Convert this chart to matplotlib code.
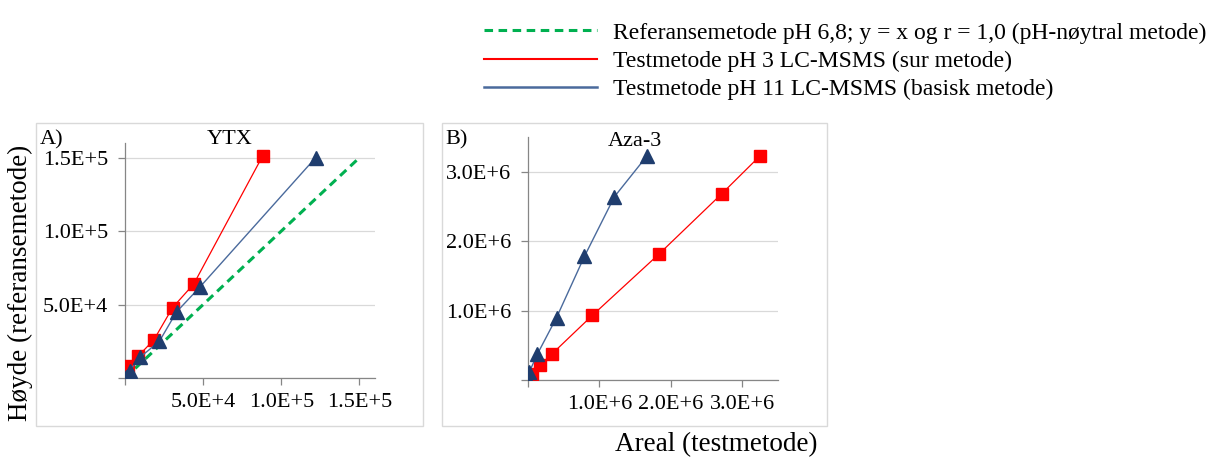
# ------------------------------------------
# Kalibreringskurver: YTX og Aza-3
# ------------------------------------------

import matplotlib
matplotlib.use("Agg")
import matplotlib.pyplot as plt
from matplotlib.lines import Line2D
from matplotlib.patches import Rectangle
from matplotlib.ticker import FuncFormatter, MultipleLocator

plt.rcParams["font.family"] = ["Liberation Serif", "DejaVu Serif"]

# ------------------------------------------
# Data
# ------------------------------------------

# A) YTX
ytx_ref = [0, 150e3]
ytx_sur_x = [0.5e3, 2e3, 8.5e3, 18.5e3, 30.5e3, 44e3, 88e3]
ytx_sur_y = [2e3, 8e3, 15e3, 26e3, 48e3, 64e3, 151e3]
ytx_bas_x = [0.5e3, 3e3, 9.5e3, 22e3, 33e3, 48e3, 122e3]
ytx_bas_y = [1e3, 5e3, 14e3, 25e3, 45e3, 62e3, 150e3]

# B) Aza-3
aza_sur_x = [0.05e6, 0.17e6, 0.34e6, 0.90e6, 1.84e6, 2.71e6, 3.25e6]
aza_sur_y = [0.09e6, 0.21e6, 0.38e6, 0.93e6, 1.82e6, 2.68e6, 3.23e6]
aza_bas_x = [0.0e6, 0.02e6, 0.13e6, 0.40e6, 0.79e6, 1.21e6, 1.66e6]
aza_bas_y = [0.0e6, 0.12e6, 0.37e6, 0.90e6, 1.78e6, 2.64e6, 3.22e6]

legend_labels = [
    "Referansemetode pH 6,8; y = x og r = 1,0 (pH-nøytral metode)",
    "Testmetode pH 3 LC-MSMS (sur metode)",
    "Testmetode pH 11 LC-MSMS (basisk metode)",
]

# ------------------------------------------
# Style
# ------------------------------------------

GREEN = "#00b050"
RED = "#ff0000"
BLUE_LINE = "#4a6a9c"
BLUE_MARK = "#1f3d6e"
GRID = "#d9d9d9"
AXIS = "#868686"

W, H = 1219, 459


def sci(v, pos):
    if v == 0:
        return ""
    exp = 0
    m = v
    while abs(m) >= 10:
        m /= 10
        exp += 1
    return f"{m:.1f}E+{exp}"


def style(ax, step_x, step_y, lim_x, lim_y):
    ax.set_xlim(0, lim_x)
    ax.set_ylim(0, lim_y)
    ax.xaxis.set_major_locator(MultipleLocator(step_x))
    ax.yaxis.set_major_locator(MultipleLocator(step_y))
    ax.xaxis.set_major_formatter(FuncFormatter(sci))
    ax.yaxis.set_major_formatter(FuncFormatter(sci))
    for s in ["top", "right"]:
        ax.spines[s].set_visible(False)
    for s in ["left", "bottom"]:
        ax.spines[s].set_color(AXIS)
        ax.spines[s].set_linewidth(0.9)
    ax.tick_params(length=5, width=0.9, color=AXIS, labelsize=16, pad=6)
    ax.tick_params(axis="y", pad=7)
    ax.grid(axis="y", color=GRID, lw=0.9)
    ax.set_axisbelow(True)
    ax.patch.set_alpha(0)


fig = plt.figure(figsize=(W / 100, H / 100), dpi=100)

# panel frames
for x0, x1 in [(36, 423), (442, 827)]:
    fig.patches.append(Rectangle(
        (x0 / W, 1 - 426 / H), (x1 - x0) / W, (426 - 123) / H,
        transform=fig.transFigure, fill=False, edgecolor=GRID, lw=1.0
    ))

ax1 = fig.add_axes([125 / W, 1 - 378 / H, 250 / W, 235 / H])
ax2 = fig.add_axes([528 / W, 1 - 380 / H, 250 / W, 243 / H])

# ------------------------------------------
# A) YTX
# ------------------------------------------

ax1.plot(ytx_ref, ytx_ref, color=GREEN, lw=2.2, dashes=(2.8, 1.8), zorder=2)
ax1.plot(ytx_sur_x, ytx_sur_y, color=RED, lw=0.9, marker="s", ms=8.5,
         mfc=RED, mec=RED, zorder=3)
ax1.plot(ytx_bas_x, ytx_bas_y, color=BLUE_LINE, lw=1.0, marker="^", ms=10.5,
         mfc=BLUE_MARK, mec=BLUE_MARK, zorder=4)
style(ax1, 5e4, 5e4, 1.6e5, 1.6e5)

# ------------------------------------------
# B) Aza-3
# ------------------------------------------

ax2.plot(aza_sur_x, aza_sur_y, color=RED, lw=0.9, marker="s", ms=8.5,
         mfc=RED, mec=RED, zorder=3)
ax2.plot(aza_bas_x, aza_bas_y, color=BLUE_LINE, lw=1.0, marker="^", ms=10.5,
         mfc=BLUE_MARK, mec=BLUE_MARK, zorder=4)
style(ax2, 1e6, 1e6, 3.5e6, 3.5e6)

# ------------------------------------------
# Text
# ------------------------------------------

fig.text(40 / W, 1 - 140 / H, "A)", fontsize=16, va="center", ha="left")
fig.text(230 / W, 1 - 140 / H, "YTX", fontsize=16, va="center", ha="center")
fig.text(445 / W, 1 - 140 / H, "B)", fontsize=16, va="center", ha="left")
fig.text(635 / W, 1 - 141 / H, "Aza-3", fontsize=16, va="center", ha="center")

fig.text(20 / W, 1 - 283 / H, "Høyde (referansemetode)", fontsize=19.5,
         rotation=90, va="center", ha="center")
fig.text(716 / W, 1 - 445 / H, "Areal (testmetode)", fontsize=19.5,
         va="center", ha="center")

handles = [
    Line2D([], [], color=GREEN, lw=2.2, dashes=(2.8, 1.8)),
    Line2D([], [], color=RED, lw=1.5),
    Line2D([], [], color=BLUE_LINE, lw=1.8),
]
fig.legend(handles, legend_labels, loc="upper left",
           bbox_to_anchor=(484 / W, 1 - 22 / H), frameon=False,
           fontsize=17, handlelength=4.8, handletextpad=0.65,
           labelspacing=0.29, borderaxespad=0, borderpad=0)

fig.savefig("out.png", dpi=100)
